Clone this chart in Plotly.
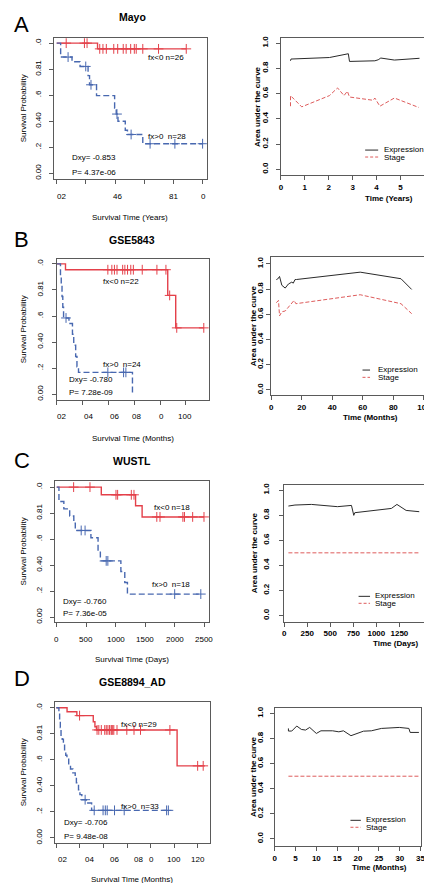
import plotly.graph_objects as go

W, H = 432, 883
FONT = "Liberation Sans, Arial, sans-serif"

# ---------------- DATA ----------------
# Kaplan-Meier curves (time, survival) and censor times
A_lo_t = [0, 2.8, 8.88]
A_lo_s = [1.0, 0.956, 0.956]
A_lo_cens = [0.65, 1.9, 2.08, 2.95, 3.17, 3.4, 3.91, 4.18, 4.56, 4.76, 5.07, 5.32, 5.45, 5.9, 6.98, 8.88]
A_hi_t = [0, 0.27, 1.05, 1.6, 2.15, 2.25, 2.73, 3.97, 4.08, 4.2, 4.7, 4.85, 5.9, 10.0]
A_hi_s = [1.0, 0.893, 0.857, 0.821, 0.75, 0.68, 0.597, 0.50, 0.455, 0.40, 0.33, 0.298, 0.227, 0.227]
A_hi_cens = [0.78, 1.99, 2.35, 4.13, 5.1, 6.4, 8.1, 10.0]

B_lo_t = [0, 6.6, 86, 92.2, 114]
B_lo_s = [1.0, 0.955, 0.758, 0.509, 0.509]
B_lo_cens = [39.5, 42.6, 44.6, 46.6, 51, 52.7, 54.8, 57.3, 59.3, 66.2, 77.6, 84.6, 87.5, 93, 114]
B_hi_t = [0, 2.7, 3.3, 3.9, 4.5, 5.1, 9.3, 12.0, 13.0, 14.5, 15.5, 16.7, 58.6]
B_hi_s = [1.0, 0.917, 0.833, 0.75, 0.667, 0.585, 0.542, 0.46, 0.376, 0.29, 0.211, 0.168, 0.0]
B_hi_cens = [7.0, 39.5, 51.7, 53.5]

C_lo_t = [0, 756, 1337, 1448, 2497]
C_lo_s = [1.0, 0.941, 0.857, 0.771, 0.771]
C_lo_cens = [287, 564, 1005, 1033, 1265, 1310, 1697, 1751, 2139, 2166, 2305, 2497]
C_hi_t = [0, 38, 121, 220, 290, 315, 580, 701, 740, 1088, 1154, 1199, 2443]
C_hi_s = [1.0, 0.889, 0.833, 0.778, 0.722, 0.667, 0.611, 0.5, 0.433, 0.351, 0.267, 0.178, 0.178]
C_hi_cens = [415, 481, 839, 867, 2000, 2443]

D_lo_t = [0, 9.1, 17.4, 31.3, 32.7, 34.0, 102.3, 125.8]
D_lo_s = [1.0, 0.97, 0.94, 0.893, 0.855, 0.83, 0.554, 0.554]
D_lo_cens = [19.7, 34.5, 36, 38.1, 41, 42.3, 43.7, 45.1, 46.4, 47, 47.8, 48.7, 51.4, 59.7, 65.8, 71.3, 96.2, 119.7, 124.4]
D_hi_t = [0, 2.2, 2.8, 3.4, 4.0, 5.0, 6.0, 7.0, 8.0, 9.0, 10.5, 12.0, 14.0, 16.0, 17.0, 18.8, 20.0, 21.6, 25.5, 29.9, 94.9]
D_hi_s = [1.0, 0.970, 0.909, 0.848, 0.788, 0.758, 0.727, 0.667, 0.636, 0.606, 0.561, 0.530, 0.500, 0.470, 0.424, 0.370, 0.333, 0.294, 0.268, 0.212, 0.212]
D_hi_cens = [24.4, 32.1, 39.6, 41.5, 43.1, 49.3, 57.5, 93.4, 94.9]

# AUC curves
A_expr_t = [0.40, 0.42, 2.03, 2.37, 2.82, 2.87, 3.93, 4.07, 4.18, 4.75, 5.8]
A_expr_v = [0.86, 0.874, 0.886, 0.90, 0.916, 0.855, 0.86, 0.868, 0.882, 0.866, 0.88]
A_stage_t = [0.40, 0.40, 0.87, 2.03, 2.37, 2.64, 2.78, 2.87, 3.86, 3.93, 4.14, 4.75, 5.77]
A_stage_v = [0.50, 0.584, 0.495, 0.584, 0.645, 0.584, 0.619, 0.573, 0.547, 0.565, 0.50, 0.565, 0.49]

B_expr_t = [3.4, 4.3, 5.5, 7.0, 9.2, 11.3, 13.5, 14.5, 15.6, 16.7, 58.3, 85, 92]
B_expr_v = [0.875, 0.88, 0.90, 0.83, 0.808, 0.84, 0.855, 0.847, 0.875, 0.876, 0.934, 0.882, 0.797]
B_stage_t = [3.4, 4.8, 5.5, 7.0, 9.2, 13.5, 15.0, 16.2, 58.3, 85, 92]
B_stage_v = [0.692, 0.71, 0.587, 0.62, 0.626, 0.692, 0.71, 0.684, 0.755, 0.684, 0.605]

C_expr_t = [46, 117, 295, 578, 730, 745, 755, 766, 968, 1163, 1223, 1323, 1465]
C_expr_v = [0.873, 0.881, 0.886, 0.868, 0.878, 0.82, 0.799, 0.82, 0.838, 0.854, 0.886, 0.838, 0.828]
C_stage_t = [46, 1465]
C_stage_v = [0.5, 0.5]

D_expr_t = [3.3, 3.3, 4.1, 5.3, 6.4, 7.4, 8.4, 10.0, 11.1, 13.9, 15.4, 16.5, 18.3, 21.3, 23.2, 25.6, 29.9, 32.2, 32.5, 34.6]
D_expr_v = [0.881, 0.86, 0.86, 0.90, 0.873, 0.868, 0.889, 0.841, 0.862, 0.862, 0.854, 0.862, 0.823, 0.859, 0.862, 0.881, 0.889, 0.881, 0.849, 0.849]
D_stage_t = [3.3, 34.6]
D_stage_v = [0.5, 0.5]

# Tick labels
KM_y_vals = [0.0, 0.2, 0.4, 0.6, 0.8, 1.0]
KM_y_text = ["0.00", ".2", "0.40", ".6", "0.81", ".0"]
AUC_y_vals = [0.0, 0.2, 0.4, 0.6, 0.8, 1.0]
AUC_y_text = ["0.0", "0.2", "0.4", "0.6", "0.8", "1.0"]

A_xticks = [0, 2, 4, 6, 8, 10]
A_xlab_pos = [0.32, 4.15, 8.03, 10.03]
A_xlab_txt = ["02", "46", "81", "0"]
B_xticks = [0, 20, 40, 60, 80, 100]
B_xlab_pos = [3.2, 24.7, 44.3, 61.8, 80.8, 99.4]
B_xlab_txt = ["02", "04", "06", "08", "0", "100"]
C_xticks = [0, 500, 1000, 1500, 2000, 2500]
C_xlab_pos = [0, 500, 1000, 1500, 2000, 2500]
C_xlab_txt = ["0", "500", "1000", "1500", "2000", "2500"]
D_xticks = [0, 20, 40, 60, 80, 100, 120]
D_xlab_pos = [5.0, 27.7, 48.9, 69.9, 80.2, 99.5, 119.9]
D_xlab_txt = ["02", "04", "06", "08", "0", "100", "120"]

A_auc_xticks = [0, 1, 2, 3, 4, 5]
B_auc_xticks = [0, 20, 40, 60, 80, 100]
C_auc_xticks = [0, 250, 500, 750, 1000, 1250]
D_auc_xticks = [0, 5, 10, 15, 20, 25, 30, 35]

# ---------------- STYLE / LAYOUT ----------------
RED = "rgb(228,64,74)"
BLUE = "rgb(72,104,176)"
EXPR = "#2a2a2a"
STG = "rgb(222,92,92)"
AXC = "#5a5a5a"


def step_at(ts, ss, t):
    v = ss[0]
    for ti, si in zip(ts, ss):
        if ti <= t:
            v = si
        else:
            break
    return v


def rng(lo, hi, pa, va, pb, vb):
    k = (vb - va) / (pb - pa)
    return [va + (lo - pa) * k, va + (hi - pa) * k]


fig = go.Figure()
layout = dict(width=W, height=H, margin=dict(l=0, r=0, t=0, b=0),
              paper_bgcolor="white", plot_bgcolor="white", showlegend=False,
              font=dict(family=FONT, size=8, color="black"))
annotations = []
shapes = []


def ann(text, px, py, size=8, bold=False, xanchor="center", angle=0, color="black"):
    annotations.append(dict(text=text, x=px / W, y=1 - py / H, xref="paper", yref="paper",
                            xanchor=xanchor, yanchor="middle", showarrow=False, textangle=angle,
                            font=dict(size=size, color=color, family=FONT,
                                      weight=700 if bold else 400)))


def axis_names(i):
    s = "" if i == 1 else str(i)
    return "x" + s, "y" + s, "xaxis" + s, "yaxis" + s


def set_axes(i, box, xmap, ymap, xticks, yvals, ytext, bold, show_xlabels, yticklab_standoff):
    xn, yn, xk, yk = axis_names(i)
    l, r, t, b = box
    common = dict(showgrid=False, zeroline=False, showline=True, mirror=True, linecolor=AXC,
                  linewidth=1, ticks="outside", ticklen=4, tickcolor=AXC, tickwidth=1)
    tf = dict(size=8, family=FONT, color="black", weight=700 if bold else 400)
    layout[xk] = dict(common, domain=[l / W, r / W], range=rng(l, r, *xmap), anchor=yn,
                      tickvals=xticks, showticklabels=show_xlabels, tickfont=tf,
                      ticktext=[str(v) for v in xticks])
    layout[yk] = dict(common, domain=[1 - b / H, 1 - t / H], range=rng(b, t, *ymap), anchor=xn,
                      tickvals=yvals, ticktext=ytext, tickangle=-90, tickfont=tf,
                      ticklabelstandoff=yticklab_standoff)
    return xn, yn


km = [
    dict(i=1, box=(45, 201, 28, 170), xmap=(47.7, 0, 196.7, 10), ymap=(164, 0, 33.3, 1),
         lo=(A_lo_t, A_lo_s, A_lo_cens), hi=(A_hi_t, A_hi_s, A_hi_cens),
         xticks=A_xticks, lab=(A_xlab_pos, A_xlab_txt), laby=187.7, sto=5,
         title="Mayo", title_y=7.5, letter="A", letter_y=15,
         xtitle="Survival Time (Years)", xtitle_y=208.3,
         texts=[("fx<0 n=26", 139, 47.7), ("fx>0\u00a0\u00a0n=28", 139.3, 126.7),
                ("Dxy= -0.853", 61, 147.7), ("P= 4.37e-06", 61, 163.3)]),
    dict(i=3, box=(47.7, 203.3, 250, 392), xmap=(48, 0, 179.5, 100), ymap=(386, 0, 255, 1),
         lo=(B_lo_t, B_lo_s, B_lo_cens), hi=(B_hi_t, B_hi_s, B_hi_cens),
         xticks=B_xticks, lab=(B_xlab_pos, B_xlab_txt), laby=408.3, sto=6,
         title="GSE5843", title_y=231, letter="B", letter_y=230.5,
         xtitle="Survival Time (Months)", xtitle_y=430.7,
         texts=[("fx<0 n=22", 93.3, 272.7), ("fx>0\u00a0\u00a0n=24", 93.3, 356),
                ("Dxy= -0.780", 58.3, 370.7), ("P= 7.28e-09", 58.3, 384)]),
    dict(i=5, box=(45.7, 203.3, 473.3, 615), xmap=(47.7, 0, 198.3, 2500), ymap=(610, 0, 479.3, 1),
         lo=(C_lo_t, C_lo_s, C_lo_cens), hi=(C_hi_t, C_hi_s, C_hi_cens),
         xticks=C_xticks, lab=(C_xlab_pos, C_xlab_txt), laby=632.7, sto=5,
         title="WUSTL", title_y=453.3, letter="C", letter_y=452.8,
         xtitle="Survival Time (Days)", xtitle_y=652.3,
         texts=[("fx<0 n=18", 145, 499.3), ("fx>0\u00a0\u00a0n=18", 143.3, 576.7),
                ("Dxy= -0.760", 51.7, 594.3), ("P= 7.36e-05", 51.7, 606.7)]),
    dict(i=7, box=(45.7, 204, 695, 837), xmap=(47.3, 0, 192, 120), ymap=(831.7, 0, 701, 1),
         lo=(D_lo_t, D_lo_s, D_lo_cens), hi=(D_hi_t, D_hi_s, D_hi_cens),
         xticks=D_xticks, lab=(D_xlab_pos, D_xlab_txt), laby=853.3, sto=5,
         title="GSE8894_AD", title_y=675, letter="D", letter_y=672,
         xtitle="Survival Time (Months)", xtitle_y=873.3,
         texts=[("fx<0 n=29", 111.7, 717.7), ("fx>0\u00a0\u00a0n=33", 111, 800),
                ("Dxy= -0.706", 53.3, 815.7), ("P= 9.48e-08", 53.3, 830.7)]),
]

for p in km:
    xn, yn = set_axes(p["i"], p["box"], p["xmap"], p["ymap"], p["xticks"], KM_y_vals, KM_y_text,
                      False, False, p["sto"])
    l, r, t, b = p["box"]
    groups = [(p["lo"][0], p["lo"][1], p["lo"][2], RED, "solid"),
              (p["hi"][0], p["hi"][1], p["hi"][2], BLUE, "6px,3px")]
    for ts, ss, cens, col, dash in groups:
        fig.add_trace(go.Scatter(x=ts, y=ss, mode="lines", xaxis=xn, yaxis=yn,
                                 line=dict(color=col, width=1.4, shape="hv", dash=dash),
                                 hoverinfo="skip"))
        fig.add_trace(go.Scatter(x=cens, y=[step_at(ts, ss, c) for c in cens], mode="markers",
                                 xaxis=xn, yaxis=yn, hoverinfo="skip",
                                 marker=dict(symbol="cross-thin", size=7, color=col,
                                             line=dict(color=col, width=1))))
    for pos, txt in zip(*p["lab"]):
        annotations.append(dict(text=txt, x=pos, xref=xn, y=1 - p["laby"] / H, yref="paper",
                                xanchor="center", yanchor="middle", showarrow=False,
                                font=dict(size=8, family=FONT, color="black")))
    ann(p["title"], 125, p["title_y"], size=10.5, bold=True)
    ann(p["letter"], 12, p["letter_y"], size=22)
    ann(p["xtitle"], (l + r) / 2, p["xtitle_y"], size=8)
    ann("Survival Probability", 14, (t + b) / 2, size=8, angle=-90)
    for txt, x0, y0 in p["texts"]:
        ann(txt, x0, y0, size=8, xanchor="left")

auc = [
    dict(i=2, box=(276.3, 424, 28, 166), xmap=(276.7, 0, 398.7, 5), ymap=(160, 0, 33.3, 1),
         e=(A_expr_t, A_expr_v), s=(A_stage_t, A_stage_v), xticks=A_auc_xticks, sto=4,
         ytitle_x=252.7, xtitle="Time (Years)", xtitle_pos=(386.7, 189),
         leg=(362.7, 376, 380, 140.7, 147.7)),
    dict(i=4, box=(266.7, 422.7, 248.3, 386.7), xmap=(266.7, 0, 422.7, 100), ymap=(381.7, 0, 255, 1),
         e=(B_expr_t, B_expr_v), s=(B_stage_t, B_stage_v), xticks=B_auc_xticks, sto=0,
         ytitle_x=248.3, xtitle="Time (Months)", xtitle_pos=(367.7, 409.3),
         leg=(360, 367.7, 373.3, 361.7, 369)),
    dict(i=6, box=(280, 422.7, 476.7, 614.3), xmap=(280, 0, 397.7, 1250), ymap=(608.3, 0, 482.3, 1),
         e=(C_expr_t, C_expr_v), s=(C_stage_t, C_stage_v), xticks=C_auc_xticks, sto=7,
         ytitle_x=249.3, xtitle="Time (Days)", xtitle_pos=(394.3, 636.7),
         leg=(356, 367.7, 371, 589, 596)),
    dict(i=8, box=(270.3, 420, 700.7, 840), xmap=(270.3, 0, 419.3, 35), ymap=(832.7, 0, 706.7, 1),
         e=(D_expr_t, D_expr_v), s=(D_stage_t, D_stage_v), xticks=D_auc_xticks, sto=3,
         ytitle_x=249.3, xtitle="Time (Months)", xtitle_pos=(377.7, 861),
         leg=(347.7, 358.3, 361.7, 814, 821)),
]

for p in auc:
    xn, yn = set_axes(p["i"], p["box"], p["xmap"], p["ymap"], p["xticks"], AUC_y_vals, AUC_y_text,
                      True, True, p["sto"])
    l, r, t, b = p["box"]
    fig.add_trace(go.Scatter(x=p["e"][0], y=p["e"][1], mode="lines", xaxis=xn, yaxis=yn,
                             line=dict(color=EXPR, width=1), hoverinfo="skip"))
    fig.add_trace(go.Scatter(x=p["s"][0], y=p["s"][1], mode="lines", xaxis=xn, yaxis=yn,
                             line=dict(color=STG, width=1, dash="4px,2px"), hoverinfo="skip"))
    ann("Area under the curve", p["ytitle_x"], (t + b) / 2, size=8, bold=True, angle=-90)
    ann(p["xtitle"], p["xtitle_pos"][0], p["xtitle_pos"][1], size=8, bold=True)
    x0, x1, tx, ye, ys = p["leg"]
    shapes.append(dict(type="line", xref="paper", yref="paper", x0=x0 / W, x1=x1 / W,
                       y0=1 - ye / H, y1=1 - ye / H, line=dict(color=EXPR, width=1)))
    shapes.append(dict(type="line", xref="paper", yref="paper", x0=x0 / W, x1=x1 / W,
                       y0=1 - ys / H, y1=1 - ys / H, line=dict(color=STG, width=1, dash="3px,2px")))
    ann("Expression", tx, ye - 0.5, size=8, xanchor="left")
    ann("Stage", tx, ys + 0.5, size=8, xanchor="left")

layout["annotations"] = annotations
layout["shapes"] = shapes
fig.update_layout(**layout)
fig.write_html("out.html")
